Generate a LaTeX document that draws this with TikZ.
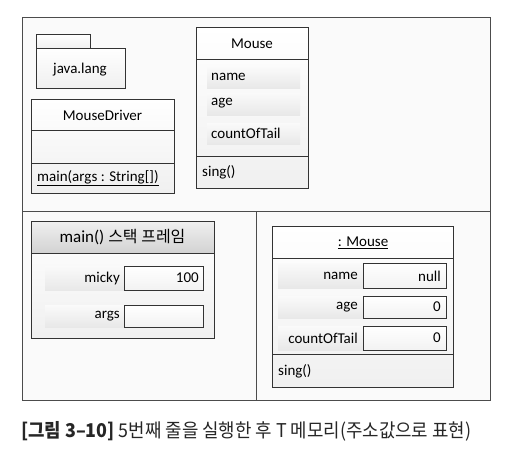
\documentclass[tikz,border=0pt]{standalone}
\usepackage{fontspec}
\setmainfont{Carlito}
\newfontfamily\kr{Noto Sans CJK KR}
\newfontfamily\krcap[FakeStretch=0.94]{Noto Sans CJK KR}
\begin{document}
\begin{tikzpicture}[x=1pt,y=-1pt,
  frame/.style={draw=black!70,line width=0.8pt},
  boxshape/.style={draw=black!80,line width=0.8pt,top color=white,bottom color=gray!12},
  headgray/.style={draw=black!80,line width=0.8pt,top color=gray!12,bottom color=gray!35},
  cellbg/.style={top color=gray!4,bottom color=gray!18,draw=none},
  valbox/.style={draw=black!80,line width=0.8pt,top color=white,bottom color=gray!10},
  txt/.style={font=\fontsize{15}{17}\selectfont,inner sep=0pt},
  every node/.style={inner sep=0pt}]
\useasboundingbox (0,0) rectangle (512,459);
\fill[white] (0,0) rectangle (512,459);
% outer frame
\draw[frame,fill=gray!4] (22,17) rectangle (490,400);
\draw[frame] (22,211) -- (490,211);
\draw[frame] (256,211) -- (256,400);
% package java.lang
\draw[boxshape] (36,34) rectangle (90,48);
\draw[boxshape] (36,48) rectangle (125,88);
\node[txt] (pkg) at (80,70) {java.lang};
% MouseDriver
\draw[boxshape] (31,99) rectangle (174,193);
\draw[frame,draw=black!80] (31,130) -- (174,130);
\draw[frame,draw=black!80] (31,163) -- (174,163);
\node[txt] (md) at (102.5,115) {MouseDriver};
\node[txt,anchor=west] (mdm) at (37,178) {\underline{main(args : String[])}};
% Mouse class
\draw[boxshape] (196,27) rectangle (308,188);
\draw[frame,draw=black!80] (196,59) -- (308,59);
\draw[frame,draw=black!80] (196,156) -- (308,156);
\node[txt] (mc) at (252,44) {Mouse};
\fill[cellbg] (207,67) rectangle (300,88);
\fill[cellbg] (207,93) rectangle (300,115);
\fill[cellbg] (207,123) rectangle (300,144);
\node[txt,anchor=west] (mcn) at (211,77) {name};
\node[txt,anchor=west] (mca) at (211,103) {age};
\node[txt,anchor=west] (mcc) at (211,133) {countOfTail};
\node[txt,anchor=west] (mcs) at (202,172) {sing()};
% main() stack frame
\draw[boxshape] (31,221) rectangle (214,338);
\draw[headgray] (31,221) rectangle (214,253);
\node[font=\fontsize{17}{19}\selectfont] (sf) at (122.5,237.5) {main() {\kr\fontsize{16}{19}\selectfont 스택 프레임}};
\fill[cellbg] (45,266) rectangle (124,290);
\fill[cellbg] (45,305) rectangle (124,327);
\draw[valbox] (124,266) rectangle (203,290);
\draw[valbox] (124,305) rectangle (203,327);
\node[txt,anchor=east] (sfm) at (120,278) {micky};
\node[txt,anchor=east] (sfv) at (199,278) {100};
\node[txt,anchor=east] (sfa) at (120,316) {args};
% : Mouse object
\draw[boxshape] (272,226) rectangle (453,387);
\draw[frame,draw=black!80] (272,258) -- (453,258);
\draw[frame,draw=black!80] (272,354) -- (453,354);
\node[txt] (om) at (363,243) {\underline{: Mouse}};
\fill[cellbg] (278,263) rectangle (363,288);
\fill[cellbg] (278,296) rectangle (363,318);
\fill[cellbg] (278,326) rectangle (363,350);
\draw[valbox] (363,263) rectangle (446,288);
\draw[valbox] (363,296) rectangle (446,318);
\draw[valbox] (363,326) rectangle (446,350);
\node[txt,anchor=east] (on) at (358,276) {name};
\node[txt,anchor=east] (onv) at (441,276) {null};
\node[txt,anchor=east] (oa) at (358,307) {age};
\node[txt,anchor=east] (oav) at (441,307) {0};
\node[txt,anchor=east] (oc) at (358,338) {countOfTail};
\node[txt,anchor=east] (ocv) at (441,338) {0};
\node[txt,anchor=west] (os) at (278,371) {sing()};
% caption
\node[anchor=west,font=\krcap\fontsize{19}{21}\selectfont,text=black!85] (cap) at (21,431) {{\bfseries [그림 3–10]} 5번째 줄을 실행한 후 T 메모리(주소값으로 표현)};
\end{tikzpicture}
\end{document}
